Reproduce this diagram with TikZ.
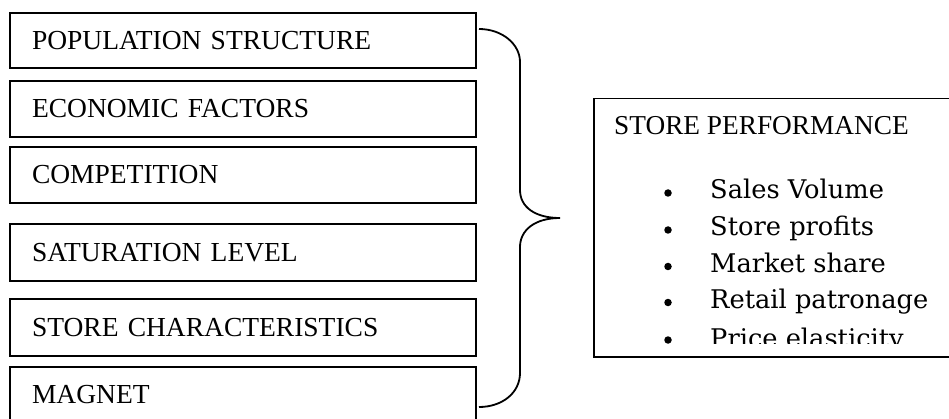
\documentclass[tikz,border=0pt]{standalone}
\usepackage{fontspec}
\setmainfont{Liberation Serif}
\newfontfamily\itemfont{DejaVu Serif}
\begin{document}
\begin{tikzpicture}[x=1pt,y=-1pt,
  factor/.style={draw, line width=1.5pt, minimum width=466pt, text width=422pt,
    align=left, inner xsep=0pt, inner ysep=0pt, text height=18pt, text depth=0pt,
    font=\fontsize{27.5}{30}\selectfont},
  perfbox/.style={draw, line width=1.5pt, anchor=north west, inner sep=0pt},
  titletext/.style={anchor=base west, inner sep=0pt, font=\fontsize{27.3}{30}\selectfont},
  itemtext/.style={anchor=base west, inner sep=0pt, font=\itemfont\fontsize{25.7}{28}\selectfont},
  dot/.style={circle, fill=black, inner sep=0pt, minimum size=7.5pt},
  brace/.style={line width=1.8pt}]
\useasboundingbox (0,0) rectangle (949,419);
\clip (0,0) rectangle (949,419);
% left factor boxes
\node[factor, minimum height=55pt] (b1) at (243,40.5) {POPULATION STRUCTURE};
\node[factor, minimum height=56pt] (b2) at (243,109) {ECONOMIC FACTORS};
\node[factor, minimum height=56pt] (b3) at (243,175) {COMPETITION};
\node[factor, minimum height=57pt] (b4) at (243,252.5) {SATURATION LEVEL};
\node[factor, minimum height=57pt] (b5) at (243,327.5) {STORE CHARACTERISTICS};
\node[factor, minimum height=54pt] (b6) at (243,394) {MAGNET};
% right performance box
\node[perfbox, minimum width=400pt, minimum height=258pt] (perf) at (593,98) {};
\node[titletext] (ptitle) at (614,135) {STORE PERFORMANCE};
\node[dot] (d1) at (668,193) {};
\node[dot] (d2) at (668,230) {};
\node[dot] (d3) at (668,266.5) {};
\node[dot] (d4) at (668,302.5) {};
\node[dot] (d5) at (668,340) {};
\node[itemtext] (i1) at (710,199) {Sales Volume};
\node[itemtext] (i2) at (710,236) {Store profits};
\node[itemtext] (i3) at (710,272.5) {Market share};
\node[itemtext] (i4) at (710,308.5) {Retail patronage};
\begin{scope}
  \clip (600,300) rectangle (949,343.5);
  \node[itemtext] (i5) at (710,347) {Price elasticity};
\end{scope}
% brace
\coordinate (bs) at (479,29);
\coordinate (tip) at (560,218);
\coordinate (be) at (479,407);
\draw[brace] (bs) .. controls (502,29) and (520,44) .. (520,62) -- (520,190)
  .. controls (520,207) and (535,218) .. (tip)
  .. controls (535,218) and (520,230) .. (520,247) -- (520,373)
  .. controls (520,393) and (502,407) .. (be);
\end{tikzpicture}
\end{document}
